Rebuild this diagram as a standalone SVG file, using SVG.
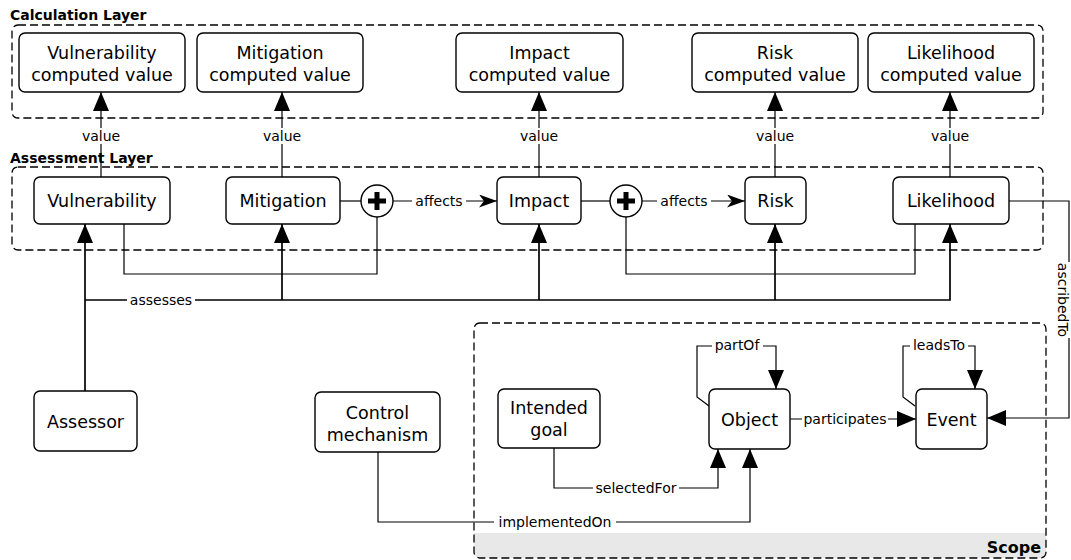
<svg xmlns="http://www.w3.org/2000/svg" width="1071" height="560" viewBox="0 0 1071 560">
<defs>
<style>
.t{font-family:"DejaVu Sans",sans-serif;font-size:17.5px;text-anchor:middle;fill:#000}
.l{font-family:"DejaVu Sans",sans-serif;font-size:14px;text-anchor:middle;fill:#000}
.h{font-family:"DejaVu Sans",sans-serif;font-size:14px;font-weight:bold;fill:#000}
.box{fill:#fff;stroke:#000;stroke-width:1.4}
.ct{fill:none;stroke:#000;stroke-width:1.3;stroke-dasharray:8 4}
.e{fill:none;stroke:#000;stroke-width:1.2}
.a{fill:none;stroke:#000;stroke-width:1.7}
.bg{fill:#fff}
</style>
<marker id="blk" markerUnits="userSpaceOnUse" markerWidth="20" markerHeight="18" refX="19" refY="8" orient="auto">
<path d="M0,0 L19,8 L0,16 z" fill="#000"/>
</marker>
<marker id="cls" markerUnits="userSpaceOnUse" markerWidth="20" markerHeight="14" refX="18" refY="6.5" orient="auto">
<path d="M0,0 L18,6.5 L0,13 L5,6.5 z" fill="#000"/>
</marker>
</defs>
<rect width="1071" height="560" fill="#fff"/>

<g id="calculation-layer">
<rect class="ct" x="12" y="25" width="1031" height="93" rx="6"/>
<text class="h" x="10" y="20">Calculation Layer</text>
</g>
<g id="assessment-layer">
<rect class="ct" x="12" y="167" width="1031" height="83" rx="6"/>
<text class="h" x="10" y="163">Assessment Layer</text>
</g>
<g id="scope">
<path d="M474,533 H1046 V552 a6,6 0 0 1 -6,6 H480 a6,6 0 0 1 -6,-6 z" fill="#e8e8e8"/>
<rect class="ct" x="474" y="323" width="572" height="235" rx="6"/>
<text class="h" x="1041" y="553" text-anchor="end" style="font-size:16px">Scope</text>
</g>

<g id="connectors">
<path class="e" d="M101,177 V92" marker-end="url(#blk)"/>
<path class="e" d="M282,177 V92" marker-end="url(#blk)"/>
<path class="e" d="M539,177 V92" marker-end="url(#blk)"/>
<path class="e" d="M775,177 V92" marker-end="url(#blk)"/>
<path class="e" d="M950,177 V92" marker-end="url(#blk)"/>
<path class="e" d="M340,201 H361"/>
<path class="e" d="M393,201 H497" marker-end="url(#cls)"/>
<path class="e" d="M581,201 H610"/>
<path class="e" d="M642,201 H745" marker-end="url(#cls)"/>
<path class="e" d="M124,224 V274 H377 V217"/>
<path class="e" d="M915,224 V274 H626 V217"/>
<path class="a" d="M85,391 V224" marker-end="url(#blk)"/>
<path class="a" d="M85,300 H950 V224" marker-end="url(#blk)"/>
<path class="a" d="M282,300 V224" marker-end="url(#blk)"/>
<path class="a" d="M539,300 V224" marker-end="url(#blk)"/>
<path class="a" d="M775,300 V224" marker-end="url(#blk)"/>
<path class="e" d="M1009,201 H1069 V418 H987" marker-end="url(#blk)"/>
<path class="e" d="M709,406 L697,397 V346 H776 V389" marker-end="url(#blk)"/>
<path class="e" d="M915,406 L903,397 V346 H975 V389" marker-end="url(#blk)"/>
<path class="e" d="M790,419 H916" marker-end="url(#blk)"/>
<path class="e" d="M554,448 V488 H718 V449" marker-end="url(#blk)"/>
<path class="e" d="M378,452 V522 H750 V449" marker-end="url(#blk)"/>
</g>

<g id="edge-labels">
<rect class="bg" x="80" y="128" width="42" height="16"/><text class="l" x="101" y="141">value</text>
<rect class="bg" x="261" y="128" width="42" height="16"/><text class="l" x="282" y="141">value</text>
<rect class="bg" x="518" y="128" width="42" height="16"/><text class="l" x="539" y="141">value</text>
<rect class="bg" x="754" y="128" width="42" height="16"/><text class="l" x="775" y="141">value</text>
<rect class="bg" x="929" y="128" width="42" height="16"/><text class="l" x="950" y="141">value</text>
<rect class="bg" x="412" y="193" width="54" height="16"/><text class="l" x="439" y="206">affects</text>
<rect class="bg" x="657" y="193" width="54" height="16"/><text class="l" x="684" y="206">affects</text>
<rect class="bg" x="127" y="292" width="68" height="16"/><text class="l" x="161" y="305">assesses</text>
<g transform="translate(1069,300) rotate(90)"><rect class="bg" x="-38" y="-6" width="76" height="22"/><text class="l" x="0" y="11.5">ascribedTo</text></g>
<rect class="bg" x="712" y="338" width="51" height="16"/><text class="l" x="737" y="350">partOf</text>
<rect class="bg" x="910" y="338" width="58" height="16"/><text class="l" x="939" y="350">leadsTo</text>
<rect class="bg" x="802" y="411" width="86" height="16"/><text class="l" x="845" y="424">participates</text>
<rect class="bg" x="593" y="480" width="86" height="16"/><text class="l" x="636" y="493">selectedFor</text>
<rect class="bg" x="494" y="514" width="122" height="16"/><text class="l" x="555" y="527">implementedOn</text>
</g>

<g id="vuln-calc"><rect class="box" x="19" y="33" width="166" height="59" rx="6"/><text class="t" x="102" y="59">Vulnerability</text><text class="t" x="102" y="81">computed value</text></g>
<g id="mitig-calc"><rect class="box" x="197" y="33" width="166" height="59" rx="6"/><text class="t" x="280" y="59">Mitigation</text><text class="t" x="280" y="81">computed value</text></g>
<g id="impact-calc"><rect class="box" x="456" y="33" width="167" height="59" rx="6"/><text class="t" x="539.5" y="59">Impact</text><text class="t" x="539.5" y="81">computed value</text></g>
<g id="risk-calc"><rect class="box" x="692" y="33" width="166" height="59" rx="6"/><text class="t" x="775" y="59">Risk</text><text class="t" x="775" y="81">computed value</text></g>
<g id="likelihood-calc"><rect class="box" x="868" y="33" width="166" height="59" rx="6"/><text class="t" x="951" y="59">Likelihood</text><text class="t" x="951" y="81">computed value</text></g>

<g id="vulnerability"><rect class="box" x="34" y="177" width="136" height="47" rx="6"/><text class="t" x="102" y="207">Vulnerability</text></g>
<g id="mitigation"><rect class="box" x="226" y="177" width="114" height="47" rx="6"/><text class="t" x="283" y="207">Mitigation</text></g>
<g id="plus1"><circle cx="377" cy="201" r="16" fill="#fff" stroke="#000" stroke-width="1.4"/><rect x="368" y="198.5" width="18" height="5"/><rect x="374.5" y="192" width="5" height="18"/></g>
<g id="impact"><rect class="box" x="497" y="177" width="84" height="47" rx="6"/><text class="t" x="539" y="207">Impact</text></g>
<g id="plus2"><circle cx="626" cy="201" r="16" fill="#fff" stroke="#000" stroke-width="1.4"/><rect x="617" y="198.5" width="18" height="5"/><rect x="623.5" y="192" width="5" height="18"/></g>
<g id="risk"><rect class="box" x="745" y="177" width="61" height="47" rx="6"/><text class="t" x="775.5" y="207">Risk</text></g>
<g id="likelihood"><rect class="box" x="893" y="177" width="116" height="47" rx="6"/><text class="t" x="951" y="207">Likelihood</text></g>

<g id="assessor"><rect class="box" x="34" y="391" width="103" height="60" rx="6"/><text class="t" x="85.5" y="427.5">Assessor</text></g>
<g id="control"><rect class="box" x="315" y="392" width="125" height="60" rx="6"/><text class="t" x="377.5" y="419">Control</text><text class="t" x="377.5" y="441">mechanism</text></g>
<g id="goal"><rect class="box" x="498" y="389" width="102" height="59" rx="6"/><text class="t" x="549" y="414">Intended</text><text class="t" x="549" y="436">goal</text></g>
<g id="object"><rect class="box" x="709" y="389" width="81" height="60" rx="6"/><text class="t" x="749.5" y="425.5">Object</text></g>
<g id="event"><rect class="box" x="916" y="389" width="71" height="60" rx="6"/><text class="t" x="951.5" y="425.5">Event</text></g>
</svg>
